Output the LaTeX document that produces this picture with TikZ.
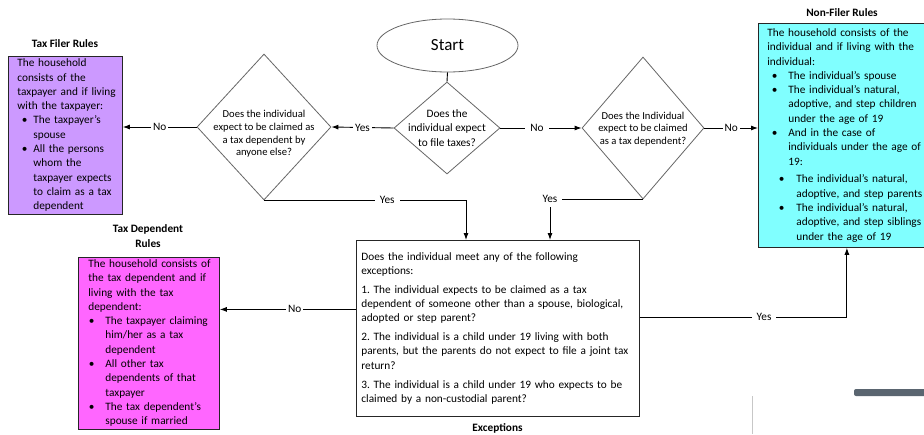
\documentclass[tikz,border=0pt]{standalone}
\usepackage{fontspec}
\setmainfont{Carlito}
\usetikzlibrary{shapes.geometric,arrows.meta,calc}
\definecolor{filerc}{HTML}{CC99FF}
\definecolor{nonfilerc}{HTML}{80FFFF}
\definecolor{depc}{HTML}{FF66FF}
\definecolor{barc}{HTML}{5A6570}
\frenchspacing
\newcommand{\fs}{\fontsize{11.3}{14.3}\selectfont}
\newcommand{\fd}{\fontsize{10.6}{12.7}\selectfont}
\newcommand{\bl}[2]{\makebox[#2][l]{\hspace*{#1}\textbullet}}
\newcommand{\ind}[1]{\hspace*{#1}}
\newcommand{\txtlines}[1]{\begin{tabular}{@{}l@{}}#1\end{tabular}}
\tikzset{
  rulebox/.style={draw=black!85, line width=0.8pt, inner ysep=0pt, anchor=north west, align=left, font=\fs},
  dia/.style={diamond, draw=black!60, line width=0.8pt, inner sep=0pt},
  dtxt/.style={font=\fd, align=center, inner sep=0pt},
  arr/.style={draw=black, line width=0.9pt, -{Latex[length=7pt,width=5pt]}},
  ln/.style={draw=black, line width=0.9pt},
  lbl/.style={fill=white, inner xsep=2pt, inner ysep=1.5pt, font=\fs},
  wlbl/.style={lbl, inner xsep=5pt},
  ttl/.style={font=\fs\bfseries, align=center, inner sep=0pt},
}
\begin{document}
\begin{tikzpicture}[x=1pt,y=-1pt]
\useasboundingbox (0,0) rectangle (924,434);
\fill[white] (0,0) rectangle (924,434);

% Start and decisions
\node[ellipse, draw=black!60, line width=0.8pt, minimum width=141pt, minimum height=53pt, font=\fontsize{17}{20}\selectfont] (start) at (447.5,45.5) {Start};
\node[dia, minimum width=134pt, minimum height=146pt] (d1) at (264,127) {};
\node[dtxt] (d1t) at (264,134) {Does the individual\\expect to be claimed as\\a tax dependent by\\anyone else?};
\node[dia, minimum width=106pt, minimum height=92pt] (d2) at (447,128) {};
\node[dtxt, font=\fs] (d2t) at (447,128) {Does the\\individual expect\\to file taxes?};
\node[dia, minimum width=122pt, minimum height=142pt] (d3) at (643,128) {};
\node[dtxt] (d3t) at (643,129) {Does the Individual\\expect to be claimed\\as a tax dependent?};

% Rule boxes
\node[rulebox, fill=filerc, text width=96pt, inner xsep=9pt, minimum height=158pt] (tf) at (8,56) {\txtlines{%
The household\\
consists of the\\
taxpayer and if living\\
with the taxpayer:\\
\bl{4.5pt}{16pt}The taxpayer’s\\
\ind{16pt}spouse\\
\bl{4.5pt}{16pt}All the persons\\
\ind{16pt}whom the\\
\ind{16pt}taxpayer expects\\
\ind{16pt}to claim as a tax\\
\ind{16pt}dependent}};
\node[ttl] (tft) at (65,44) {Tax Filer Rules};

\node[rulebox, fill=nonfilerc, text width=159pt, inner xsep=9pt, minimum height=224pt] (nf) at (758,23) {\txtlines{%
The household consists of the\\
individual and if living with the\\
individual:\\
\bl{4.5pt}{21pt}The individual’s spouse\\
\bl{4.5pt}{21pt}The individual’s natural,\\
\ind{21pt}adoptive, and step children\\
\ind{21pt}under the age of 19\\
\bl{4.5pt}{21pt}And in the case of\\
\ind{21pt}individuals under the age of\\
\ind{21pt}19:\\[3.5pt]
\bl{11.5pt}{29pt}The individual’s natural,\\
\ind{29pt}adoptive, and step parents\\
\bl{11.5pt}{29pt}The individual’s natural,\\
\ind{29pt}adoptive, and step siblings\\
\ind{29pt}under the age of 19}};
\node[ttl] (nft) at (842,13) {Non-Filer Rules};

\node[rulebox, fill=depc, text width=121pt, inner xsep=10pt, minimum height=170pt] (td) at (78,257) {\txtlines{%
The household consists of\\
the tax dependent and if\\
living with the tax\\
dependent:\\
\bl{0.5pt}{17pt}The taxpayer claiming\\
\ind{17pt}him/her as a tax\\
\ind{17pt}dependent\\
\bl{0.5pt}{17pt}All other tax\\
\ind{17pt}dependents of that\\
\ind{17pt}taxpayer\\
\bl{0.5pt}{17pt}The tax dependent’s\\
\ind{17pt}spouse if married}};
\node[ttl] (tdt) at (148,236) {Tax Dependent\\Rules};

\node[rulebox, fill=white, text width=273pt, inner xsep=5pt, minimum height=176pt] (exc) at (356,240) {\txtlines{%
Does the individual meet any of the following\\
exceptions:\\[4.5pt]
1. The individual expects to be claimed as a tax\\
dependent of someone other than a spouse, biological,\\
adopted or step parent?\\[4.5pt]
2. The individual is a child under 19 living with both\\
parents, but the parents do not expect to file a joint tax\\
return?\\[4.5pt]
3. The individual is a child under 19 who expects to be\\
claimed by a non-custodial parent?}};
\node[ttl] (exct) at (497.5,428) {Exceptions};

% Connectors
\draw[ln] (start.south) -- (d2.north);
\draw[arr] (d1.west) -- node[lbl]{No} (d1.west -| tf.east);
\draw[arr] (d2.west) -- node[lbl]{Yes} (d1.east);
\draw[arr] (d2.east) -- node[wlbl,pos=0.45]{No} (d3.west);
\draw[arr] (d3.east) -- node[lbl]{No} (d3.east -| nf.west);
\coordinate (y1) at ([xshift=110pt]exc.north west);
\draw[arr] (d1.south) -- node[wlbl,pos=0.61]{Yes} (d1.south -| y1) -- (y1);
\coordinate (y2) at ([xshift=194pt]exc.north west);
\draw[arr] (d3.south) -| node[wlbl,inner ysep=4pt,pos=0.5]{Yes} (y2);
\coordinate (p1) at ([yshift=19pt]exc.west);
\draw[arr] (p1) -- node[lbl,pos=0.45]{No} (p1 -| td.east);
\coordinate (p2) at ([yshift=11pt]exc.east);
\draw[arr] (p2) -| node[wlbl,pos=0.3]{Yes} (nf.south);

% stray marks at the bottom right
\fill[barc, rounded corners=2pt] (854,389) rectangle (932,396);
\draw[black!22, line width=0.8pt] (752,396) -- (752,434);
\end{tikzpicture}
\end{document}
